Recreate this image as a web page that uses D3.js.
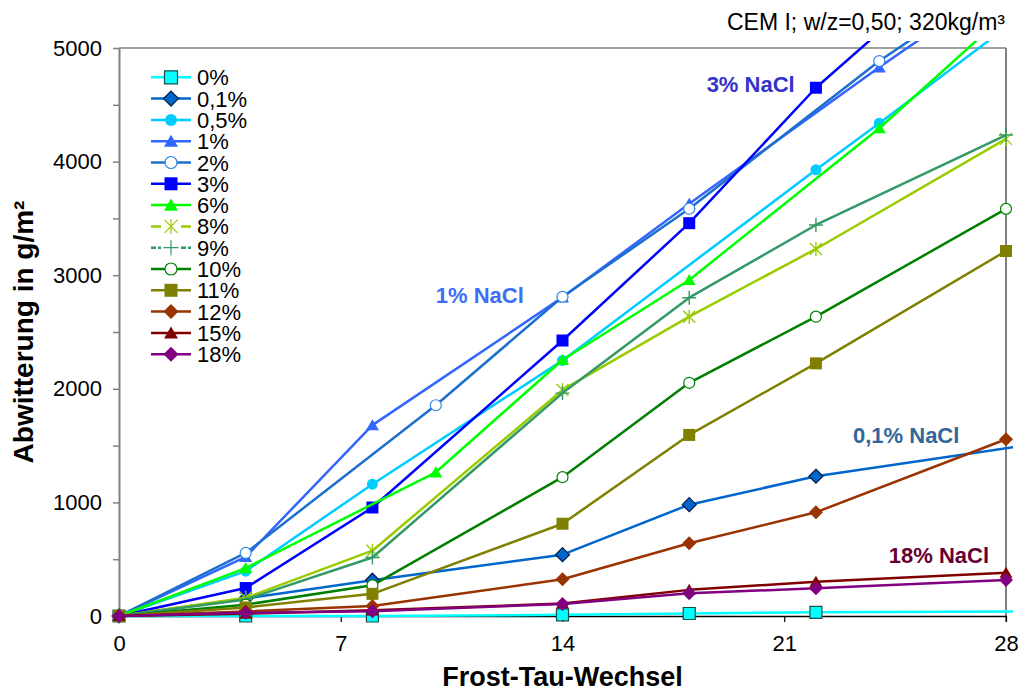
<!DOCTYPE html>
<html>
<head>
<meta charset="utf-8">
<title>Abwitterung CEM I</title>
<script src="https://cdn.jsdelivr.net/npm/d3@7"></script>
<style>
body { margin: 0; background: #fff; }
text { font-family: "Liberation Sans", Arial, sans-serif; }
</style>
</head>
<body>
<script>
// NaCl concentration of each series
var names = ["0%", "0,1%", "0,5%", "1%", "2%", "3%", "6%", "8%", "9%", "10%", "11%", "12%", "15%", "18%"];

// freeze-thaw cycles at which each series was measured
var cycles = [
  [0, 4, 8, 14, 18, 22, 28.25],
  [0, 4, 8, 14, 18, 22, 28.25],
  [0, 4, 8, 14, 22, 24, 28],
  [0, 4, 8, 14, 18, 24, 28],
  [0, 4, 10, 14, 18, 24, 28],
  [0, 4, 8, 14, 18, 22, 24],
  [0, 4, 10, 14, 18, 24, 28],
  [0, 4, 8, 14, 18, 22, 28],
  [0, 4, 8, 14, 18, 22, 28],
  [0, 4, 8, 14, 18, 22, 28],
  [0, 4, 8, 14, 18, 22, 28],
  [0, 4, 8, 14, 18, 22, 28],
  [0, 4, 8, 14, 18, 22, 28],
  [0, 4, 8, 14, 18, 22, 28]
];

// scaling in g/m2
var loss = [
  [0, 0, 0, 10, 22, 32, 40],
  [0, 155, 315, 540, 980, 1230, 1486],
  [0, 395, 1160, 2250, 3928, 4338, 5180],
  [0, 520, 1680, 2805, 3630, 4830, 5600],
  [0, 555, 1855, 2810, 3585, 4885, 5640],
  [0, 246, 955, 2425, 3458, 4650, 5140],
  [0, 422, 1265, 2254, 2958, 4294, 5300],
  [0, 160, 575, 1990, 2635, 3231, 4200],
  [0, 145, 515, 1962, 2802, 3442, 4234],
  [0, 100, 270, 1222, 2053, 2635, 3584],
  [0, 75, 195, 812, 1594, 2224, 3213],
  [0, 40, 88, 323, 641, 913, 1556],
  [0, 20, 50, 110, 230, 302, 381],
  [0, 28, 42, 106, 200, 244, 317]
];

var xTicks = [0, 7, 14, 21, 28];
var yTicks = [0, 500, 1000, 1500, 2000, 2500, 3000, 3500, 4000, 4500, 5000];

var notes = ["3% NaCl", "1% NaCl", "0,1% NaCl", "18% NaCl"];
var noteX = [18.55, 10.0, 23.17, 24.3];
var noteY = [4610, 2755, 1523, 467];

// styles
var lineColors = ["#00FFFF", "#0066CC", "#00CCFF", "#3366FF", "#1C6FCE", "#0000FF", "#00FF00",
                  "#99CC00", "#339966", "#008000", "#808000", "#993300", "#800000", "#800080"];
var markers = ["square", "diamond", "circle", "triangle", "circle", "square", "triangle",
               "star", "plus", "circle", "square", "diamond", "triangle", "diamond"];
var markerFill = ["#00FFFF", "#0066CC", "#00CCFF", "#3366FF", "#ffffff", "#0000FF", "#00FF00",
                  "none", "none", "#ffffff", "#808000", "#993300", "#800000", "#800080"];
var markerStroke = ["#1a4d4d", "#001a40", "none", "none", "#2E86E6", "none", "none",
                    "#99CC00", "#339966", "#008000", "none", "none", "none", "none"];
var noteColors = ["#3333CC", "#3D6EF5", "#336699", "#660033"];

var w = 1022, h = 691;

var svg = d3.select("body").append("svg")
    .attr("width", w)
    .attr("height", h);

var x = d3.scaleLinear().domain([0, 28]).range([119, 1006]);
var y = d3.scaleLinear().domain([0, 5000]).range([616, 48]);

function markerPath(type, s) {
  if (type == "square") return "M" + (-s) + "," + (-s) + "H" + s + "V" + s + "H" + (-s) + "Z";
  if (type == "diamond") return "M0," + (-s - 1) + "L" + (s + 1) + ",0L0," + (s + 1) + "L" + (-s - 1) + ",0Z";
  if (type == "triangle") return "M0," + (-s) + "L" + (s + 0.5) + "," + (s * 0.85) + "L" + (-s - 0.5) + "," + (s * 0.85) + "Z";
  if (type == "circle") { var r = s - 0.5; return "M" + (-r) + ",0A" + r + "," + r + " 0 1,0 " + r + ",0A" + r + "," + r + " 0 1,0 " + (-r) + ",0Z"; }
  if (type == "star") return "M" + (-s) + "," + (-s) + "L" + s + "," + s + "M" + (-s) + "," + s + "L" + s + "," + (-s) + "M0," + (-s - 1) + "V" + (s + 1);
  if (type == "plus") return "M" + (-s - 1) + ",0H" + (s + 1) + "M0," + (-s - 1) + "V" + (s + 1);
}

// frame
svg.append("line")
    .attr("x1", x(0)).attr("x2", x(28))
    .attr("y1", y(5000)).attr("y2", y(5000))
    .attr("stroke", "#808080").attr("stroke-width", 1.5);
svg.append("line")
    .attr("x1", x(28)).attr("x2", x(28))
    .attr("y1", y(5000)).attr("y2", y(0) + 6)
    .attr("stroke", "#808080").attr("stroke-width", 2);

// y axis
var yAxis = svg.append("g")
    .attr("transform", "translate(" + x(0) + ",0)")
    .call(d3.axisLeft(y).tickValues(yTicks)
      .tickFormat(function(d) { return d % 1000 == 0 ? d : ""; })
      .tickSize(6).tickSizeOuter(0).tickPadding(11));
yAxis.select(".domain").attr("stroke", "#808080").attr("stroke-width", 2);
yAxis.selectAll(".tick line").attr("stroke", "#808080").attr("stroke-width", 1.5);
yAxis.selectAll("text").attr("font-size", 22).attr("fill", "#000")
    .style("font-family", "'Liberation Sans', Arial, sans-serif");

// x axis
var xAxis = svg.append("g")
    .attr("transform", "translate(0," + y(0) + ")")
    .call(d3.axisBottom(x).tickValues(xTicks).tickSize(6).tickSizeOuter(0).tickPadding(13));
xAxis.select(".domain").attr("stroke", "#000").attr("stroke-width", 1.5);
xAxis.selectAll(".tick line").attr("stroke", "#000").attr("stroke-width", 1.2);
xAxis.selectAll("text").attr("font-size", 22).attr("fill", "#000")
    .style("font-family", "'Liberation Sans', Arial, sans-serif");

// clip a little beyond the frame, like the original
svg.append("clipPath").attr("id", "plotclip")
  .append("rect")
    .attr("x", x(0) - 10).attr("y", y(5000) - 7)
    .attr("width", x(28) - x(0) + 17).attr("height", y(0) - y(5000) + 20);

var plot = svg.append("g").attr("clip-path", "url(#plotclip)");

var line = d3.line()
    .x(function(d) { return x(d[0]); })
    .y(function(d) { return y(d[1]); });

names.forEach(function(name, i) {
  var pts = cycles[i].map(function(c, j) { return [c, loss[i][j]]; });
  plot.append("path")
      .datum(pts)
      .attr("d", line)
      .attr("fill", "none")
      .attr("stroke", lineColors[i])
      .attr("stroke-width", 2.5)
      .attr("stroke-linejoin", "round");
  plot.selectAll(".m" + i)
      .data(pts.filter(function(d) { return d[0] <= 28 && d[1] <= 5000; }))
      .enter()
      .append("path")
      .attr("class", "m" + i)
      .attr("transform", function(d) { return "translate(" + x(d[0]) + "," + y(d[1]) + ")"; })
      .attr("d", markerPath(markers[i], 6))
      .attr("fill", markerFill[i])
      .attr("stroke", markerStroke[i])
      .attr("stroke-width", markers[i] == "star" || markers[i] == "plus" ? 1.4 : 1.2);
});

// annotations
svg.selectAll(".note")
    .data(notes)
    .enter()
    .append("text")
    .attr("class", "note")
    .attr("x", function(d, i) { return x(noteX[i]); })
    .attr("y", function(d, i) { return y(noteY[i]); })
    .attr("fill", function(d, i) { return noteColors[i]; })
    .attr("font-size", 22)
    .attr("font-weight", "bold")
    .text(function(d) { return d; });

// legend
var leg = svg.append("g");
names.forEach(function(name, i) {
  var cy = 77.3 + i * 21.3;
  if (markers[i] == "star" || markers[i] == "plus") {
    leg.append("path")
        .attr("d", "M151," + cy + "H161M181," + cy + "H191")
        .attr("stroke", lineColors[i]).attr("stroke-width", 2.5)
        .attr("stroke-dasharray", markers[i] == "plus" ? "5,2" : null);
  } else {
    leg.append("line")
        .attr("x1", 151).attr("x2", 191)
        .attr("y1", cy).attr("y2", cy)
        .attr("stroke", lineColors[i]).attr("stroke-width", 2.5);
  }
  leg.append("path")
      .attr("transform", "translate(171," + cy + ")")
      .attr("d", markerPath(markers[i], 6.5))
      .attr("fill", markerFill[i])
      .attr("stroke", markerStroke[i])
      .attr("stroke-width", 1.2);
  leg.append("text")
      .attr("x", 197)
      .attr("y", cy + 8)
      .attr("font-size", 22)
      .text(name);
});

// titles
svg.append("text")
    .attr("x", 1005).attr("y", 30)
    .attr("text-anchor", "end")
    .attr("font-size", 23)
    .text("CEM I; w/z=0,50; 320kg/m³");

svg.append("text")
    .attr("x", (x(0) + x(28)) / 2).attr("y", 686)
    .attr("text-anchor", "middle")
    .attr("font-size", 27)
    .attr("font-weight", "bold")
    .text("Frost-Tau-Wechsel");

svg.append("text")
    .attr("transform", "translate(33," + ((y(0) + y(5000)) / 2) + ") rotate(-90)")
    .attr("text-anchor", "middle")
    .attr("font-size", 28)
    .attr("font-weight", "bold")
    .text("Abwitterung in g/m²");
</script>
</body>
</html>
